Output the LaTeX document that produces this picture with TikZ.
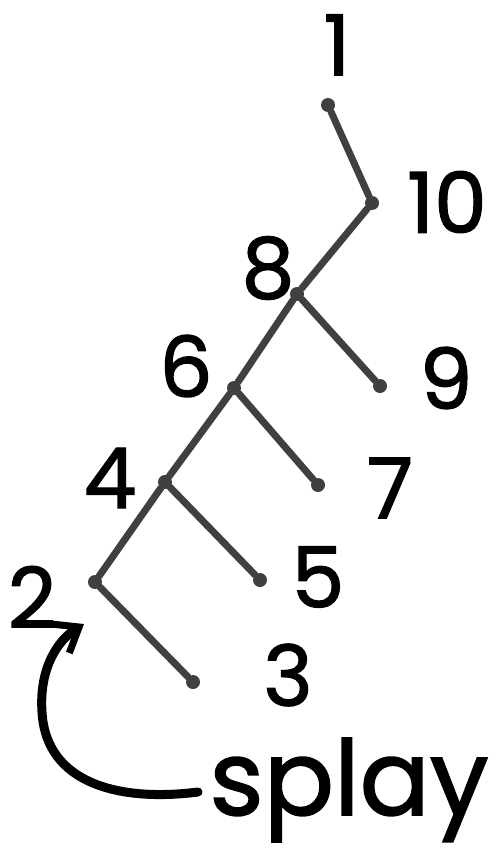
\documentclass[tikz,border=0pt]{standalone}
\usepackage{fontspec}
\setmainfont{Poppins}
\newfontfamily\handfont{Poppins}[FakeBold=1.5]
\usetikzlibrary{arrows.meta}
\tikzset{
  dot/.style={circle,fill=black!75,inner sep=0pt,minimum size=14pt},
  edge/.style={draw=black!75,line width=7pt,line cap=round},
  numlabel/.style={font=\fontsize{84}{84}\selectfont\handfont,inner sep=0pt},
}
\begin{document}
\begin{tikzpicture}[x=1pt,y=-1pt]
\useasboundingbox (0,0) rectangle (498,856);

% tree nodes
\node[dot] (n1) at (328,105) {};
\node[dot] (n10) at (372,203) {};
\node[dot] (n8) at (297,294) {};
\node[dot] (n9) at (380,386) {};
\node[dot] (n6) at (234,388) {};
\node[dot] (n7) at (318,485) {};
\node[dot] (n4) at (165,482) {};
\node[dot] (n5) at (260,580) {};
\node[dot] (n2) at (95,582) {};
\node[dot] (n3) at (193,682) {};

\draw[edge] (n1)--(n10)--(n8)--(n6)--(n4)--(n2);
\draw[edge] (n8)--(n9);
\draw[edge] (n6)--(n7);
\draw[edge] (n4)--(n5);
\draw[edge] (n2)--(n3);

% labels
\node[numlabel] (l1) at (337,45) {1};
\node[numlabel] (l10) at (447,202) {10};
\node[numlabel] (l8) at (268,268) {8};
\node[numlabel] (l9) at (446,378) {9};
\node[numlabel] (l6) at (186,366) {6};
\node[numlabel] (l7) at (390,488) {7};
\node[numlabel] (l4) at (110,478) {4};
\node[numlabel] (l5) at (318,577) {5};
\node[numlabel] (l2) at (32,597) {2};
\node[numlabel] (l3) at (288,675) {3};

% splay arrow
\node[font=\fontsize{104}{104}\selectfont\handfont,inner sep=0pt] (splay) at (349,790) {splay};
\coordinate (tail) at (198,792);
\coordinate (tip) at (84,624);
\draw[line width=9pt,line cap=round,-{Straight Barb[length=22pt,width=34pt,line width=7pt]}]
  (tail) .. controls (120,802) and (46,784) .. (42,712)
  .. controls (39,668) and (58,640) .. (tip);
\end{tikzpicture}
\end{document}
